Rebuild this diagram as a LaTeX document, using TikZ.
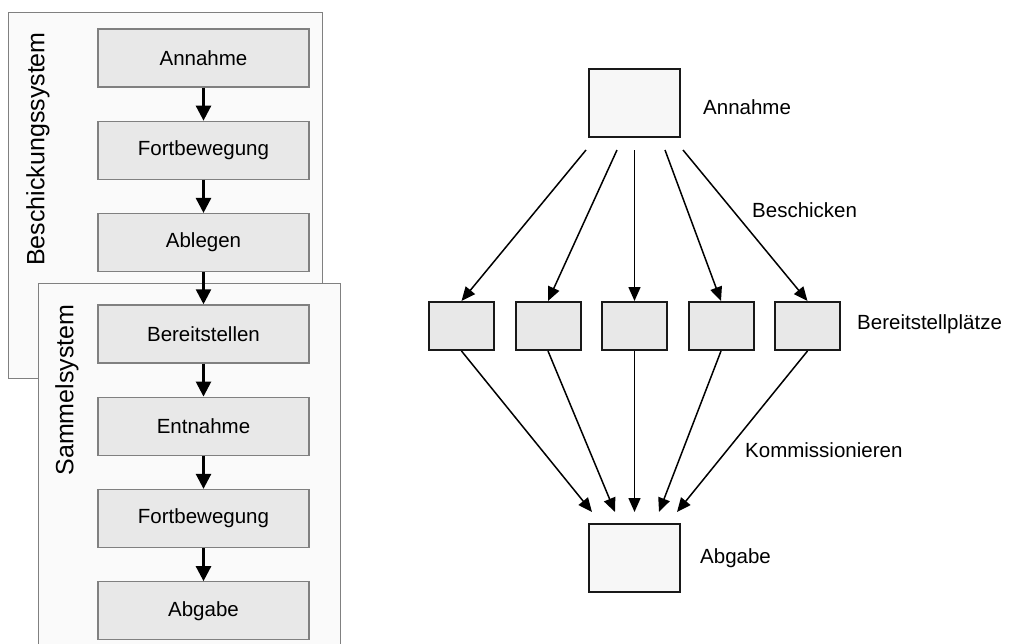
\documentclass[tikz,border=0pt]{standalone}
\usepackage{fontspec}
\setmainfont{Liberation Sans}
\usetikzlibrary{arrows.meta,positioning}

\newcommand{\lbl}{\fontsize{20.5pt}{24pt}\selectfont}
\newcommand{\biglbl}{\fontsize{25pt}{30pt}\selectfont}

\tikzset{
  panel/.style={draw=black!50, fill=black!2, line width=1pt},
  stage/.style={draw=black!50, fill=black!9, line width=1.3pt, minimum width=211pt, minimum height=58pt, inner sep=0pt},
  flow/.style={-{Triangle[length=15pt,width=15pt]}, line width=2.6pt},
  bigbox/.style={draw=black!90, fill=black!3, line width=2pt, minimum width=91pt, minimum height=68pt, inner sep=0pt},
  slot/.style={draw=black!90, fill=black!9, line width=2pt, minimum width=65pt, minimum height=48pt, inner sep=0pt},
  feed/.style={-{Triangle[length=14pt,width=12pt]}, line width=1.5pt},
  tag/.style={anchor=west, inner sep=0pt}
}

\begin{document}
\begin{tikzpicture}[x=1pt,y=-1pt,font=\lbl]
\useasboundingbox (0,0) rectangle (1009,643);

% Beschickungssystem
\draw[panel] (8,12) rectangle (322,378);
\node[rotate=90] (bsys) at (38,149) {\biglbl Beschickungssystem};
\node[stage] (an) at (203.5,58) {Annahme};
\node[stage, below=33pt of an] (fb1) {Fortbewegung};
\node[stage, below=33pt of fb1] (ab) {Ablegen};

% Sammelsystem
\draw[panel] (38,283) rectangle (340,670);
\node[rotate=90] (ssys) at (67,390) {\biglbl Sammelsystem};
\node[stage, below=32pt of ab] (be) {Bereitstellen};
\node[stage, below=33pt of be] (en) {Entnahme};
\node[stage, below=33pt of en] (fb2) {Fortbewegung};
\node[stage, below=33pt of fb2] (ag) {Abgabe};

\foreach \a/\b in {an/fb1,fb1/ab,ab/be,be/en,en/fb2,fb2/ag}
  \draw[flow] (\a) -- (\b);

% Bereitstellplaetze
\node[bigbox] (in) at (634,102.5) {};
\node[bigbox] (out) at (634,558) {};
\node[tag] (inlbl) at (703,107) {Annahme};
\node[tag] (outlbl) at (700,558) {Abgabe};
\node[tag] (feedlbl) at (752,210) {Beschicken};
\node[tag] (slotlbl) at (857,324) {Bereitstellplätze};
\node[tag] (picklbl) at (745,450) {Kommissionieren};

\foreach \i/\x in {1/461.5,2/548,3/634.5,4/721,5/807.5}
  \node[slot] (p\i) at (\x,326) {};
\foreach \i/\x in {1/586,2/617,3/634.5,4/665,5/683}
  \coordinate (s\i) at (\x,150);
\foreach \i/\x in {1/592,2/615,3/634.5,4/659,5/677}
  \coordinate (t\i) at (\x,512);

\foreach \i in {1,...,5}{
  \draw[feed] (s\i) -- (p\i.north);
  \draw[feed] (p\i.south) -- (t\i);
}
\end{tikzpicture}
\end{document}
